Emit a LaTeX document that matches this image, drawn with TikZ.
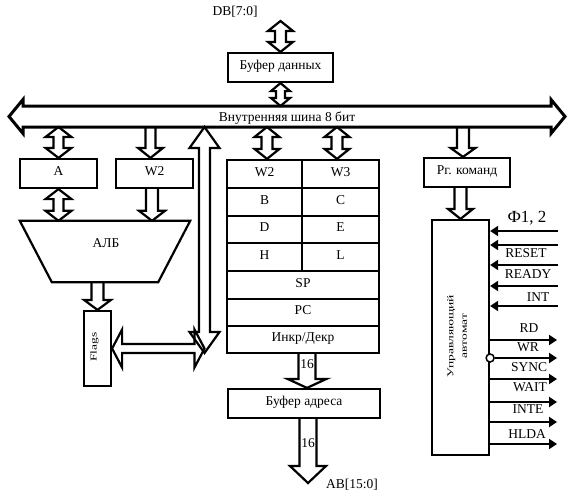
\documentclass[tikz,border=0pt]{standalone}
\usepackage{fontspec}
\usepackage{graphicx}
\setmainfont{Liberation Serif}
\usetikzlibrary{calc,arrows.meta}
\newcommand{\VDarrow}[5]{%
 \draw[fatline] let \p1=#1, \p2=#2 in
  (\x1,\y1) -- (\x1+#4,\y1-#5) -- (\x1+#3,\y1-#5) -- (\x1+#3,\y2+#5) -- (\x1+#4,\y2+#5) -- (\x1,\y2) -- (\x1-#4,\y2+#5) -- (\x1-#3,\y2+#5) -- (\x1-#3,\y1-#5) -- (\x1-#4,\y1-#5) -- cycle;}
\newcommand{\VDown}[5]{%
 \draw[fatline] let \p1=#1, \p2=#2 in
  (\x1-#3,\y1) -- (\x1-#3,\y2+#5) -- (\x1-#4,\y2+#5) -- (\x1,\y2) -- (\x1+#4,\y2+#5) -- (\x1+#3,\y2+#5) -- (\x1+#3,\y1);}
\newcommand{\HDarrow}[6]{%
 \draw[fatline,#6] let \p1=#1, \p2=#2 in
  (\x1,\y1) -- (\x1+#5,\y1+#4) -- (\x1+#5,\y1+#3) -- (\x2-#5,\y1+#3) -- (\x2-#5,\y1+#4) -- (\x2,\y1) -- (\x2-#5,\y1-#4) -- (\x2-#5,\y1-#3) -- (\x1+#5,\y1-#3) -- (\x1+#5,\y1-#4) -- cycle;}
\newcommand{\strtxt}[1]{\scalebox{1.5}[1]{#1}}
\begin{document}
\begin{tikzpicture}[x=1pt,y=-1pt,
  every node/.style={font=\fontsize{13.5}{16}\selectfont},
  box/.style={draw,line width=2.2pt,inner sep=0pt,text height=9pt,text depth=5pt},
  fatline/.style={line width=2.2pt,line join=miter},
  sig/.style={line width=2.5pt,-{Triangle[length=8pt,width=10pt]}},
  lbl/.style={inner sep=0pt}]
\useasboundingbox (0,0) rectangle (575,498);
\fill[white] (0,0) rectangle (575,498);

% nodes
\node[lbl] (db) at (235,12) {DB[7:0]};
\coordinate (dbtop) at (280.5,21);
\node[box,minimum width=105,minimum height=29] (bufd) at (280.5,67.5) {Буфер данных};
\coordinate (busL) at (9,116.5);
\coordinate (busR) at (565,116.5);
\coordinate (busT) at (0,106);
\coordinate (busB) at (0,127);
\node[lbl] (buslbl) at (287,118) {Внутренняя шина 8 бит};

\node[box,minimum width=77,minimum height=29] (A) at (58.5,173.5) {A};
\node[box,minimum width=77,minimum height=29] (W2a) at (154.5,173.5) {W2};

\node[box,minimum width=75,minimum height=28] (rW2) at (264.5,174) {W2};
\node[box,minimum width=77,minimum height=28] (rW3) at (340.5,174) {W3};
\node[box,minimum width=75,minimum height=28] (rB) at (264.5,202) {B};
\node[box,minimum width=77,minimum height=28] (rC) at (340.5,202) {C};
\node[box,minimum width=75,minimum height=27] (rD) at (264.5,229.5) {D};
\node[box,minimum width=77,minimum height=27] (rE) at (340.5,229.5) {E};
\node[box,minimum width=75,minimum height=28] (rH) at (264.5,257) {H};
\node[box,minimum width=77,minimum height=28] (rL) at (340.5,257) {L};
\node[box,minimum width=152,minimum height=28] (rSP) at (303,285) {SP};
\node[box,minimum width=152,minimum height=27] (rPC) at (303,312.5) {PC};
\node[box,minimum width=152,minimum height=27] (rID) at (303,339.5) {Инкр/Декр};

\node[box,minimum width=86,minimum height=29] (rg) at (467,172.5) {Рг. команд};
\node[box,minimum width=57,minimum height=235] (ctrl) at (460.5,337.5) {};
\node[lbl,rotate=90,align=center,font=\fontsize{9}{13.5}\selectfont] (ctrllbl) at (457,336) {\strtxt{Управляющий}\\\strtxt{автомат}};

\node[inner sep=0pt,minimum width=170,minimum height=61] (alu) at (105,251.5) {};
\draw[line width=2.2pt,line join=miter] (alu.north west) -- (alu.north east) -- ([xshift=-32pt]alu.south east) -- ([xshift=32pt]alu.south west) -- cycle;
\node[lbl] (alulbl) at (106,243) {АЛБ};

\node[box,minimum width=27,minimum height=75] (flags) at (97.5,348.5) {};
\node[lbl,rotate=90,font=\fontsize{9}{11}\selectfont] (flagslbl) at (94.5,347) {\strtxt{Flags}};
\coordinate (junc) at (204.5,353);

\node[box,minimum width=152,minimum height=29] (bufa) at (304,403.5) {Буфер адреса};
\coordinate (abtip) at (308,483);
\node[lbl] (ab) at (352,485) {AB[15:0]};

% fat arrows
\VDarrow{(dbtop)}{(bufd.north)}{5.5pt}{12.5pt}{10pt}
\VDarrow{(bufd.south)}{(bufd.south |- busT)}{4.5pt}{9.5pt}{8pt}
\HDarrow{(busL)}{(busR)}{10.5pt}{17pt}{14pt}{line width=3pt}
\VDarrow{(A.north |- busB)}{(A.north)}{5pt}{13pt}{10pt}
\coordinate (w2x) at ([xshift=-4pt]W2a.north);
\VDown{(w2x |- busB)}{(w2x)}{5pt}{12.5pt}{10pt}
\VDarrow{(junc |- busB)}{(junc)}{5.5pt}{15pt}{21pt}
\coordinate (r1x) at ([xshift=2.5pt]rW2.north);
\coordinate (r2x) at ([xshift=-3.5pt]rW3.north);
\VDarrow{(r1x |- busB)}{(r1x)}{5.5pt}{12.5pt}{10pt}
\VDarrow{(r2x |- busB)}{(r2x)}{5.5pt}{12.5pt}{10pt}
\coordinate (rgx) at ([xshift=-4pt]rg.north);
\VDown{(rgx |- busB)}{(rgx)}{6pt}{12.5pt}{9pt}
\VDown{(rg.south -| ctrl.north)}{(ctrl.north)}{6pt}{12.5pt}{10pt}
\VDarrow{(A.south)}{(A.south |- alu.north)}{5pt}{13pt}{10pt}
\coordinate (w2y) at ([xshift=-2.5pt]W2a.south);
\VDown{(w2y)}{(w2y |- alu.north)}{6pt}{13pt}{10pt}
\VDown{(flags.north |- alu.south)}{(flags.north)}{6pt}{13.5pt}{10pt}
\HDarrow{(flags.east)}{(junc |- flags.east)}{4.5pt}{19pt}{10pt}{}
\coordinate (bx) at ([xshift=4pt]rID.south);
\VDown{(bx)}{(bx |- bufa.north)}{8.5pt}{19.5pt}{9pt}
\VDown{(abtip |- bufa.south)}{(abtip)}{8.5pt}{18pt}{17pt}
\node[lbl] (n16a) at (307,364) {16};
\node[lbl] (n16b) at (308,443) {16};

% control signals
\node[lbl,font=\fontsize{17}{20}\selectfont] (phi) at (527,218) {Ф1, 2};
\coordinate (in1) at (558,231);
\coordinate (in2) at (558,245);
\coordinate (in3) at (558,265);
\coordinate (in4) at (558,286);
\coordinate (in5) at (558,306);
\foreach \i in {1,...,5} \draw[sig] (in\i) -- (ctrl.east |- in\i);
\node[lbl] (reset) at (526,253) {RESET};
\node[lbl] (ready) at (528,274) {READY};
\node[lbl] (int) at (538,297) {INT};

\coordinate (out1) at (557,340);
\coordinate (out2) at (557,358);
\coordinate (out3) at (557,379);
\coordinate (out4) at (557,402);
\coordinate (out5) at (557,422);
\coordinate (out6) at (557,444);
\draw[sig] (ctrl.east |- out1) -- (out1);
\node[circle,draw,fill=white,minimum size=8pt,inner sep=0pt,line width=1.5pt] (inv) at (ctrl.east |- out2) {};
\draw[sig] (inv.east) -- (out2);
\foreach \i in {3,...,6} \draw[sig] (ctrl.east |- out\i) -- (out\i);
\node[lbl] (rd) at (529,328) {RD};
\node[lbl] (wr) at (528,347) {WR};
\node[lbl] (sync) at (529,367) {SYNC};
\node[lbl] (wait) at (530,387) {WAIT};
\node[lbl] (inte) at (528,409) {INTE};
\node[lbl] (hlda) at (527,434) {HLDA};
\end{tikzpicture}
\end{document}
